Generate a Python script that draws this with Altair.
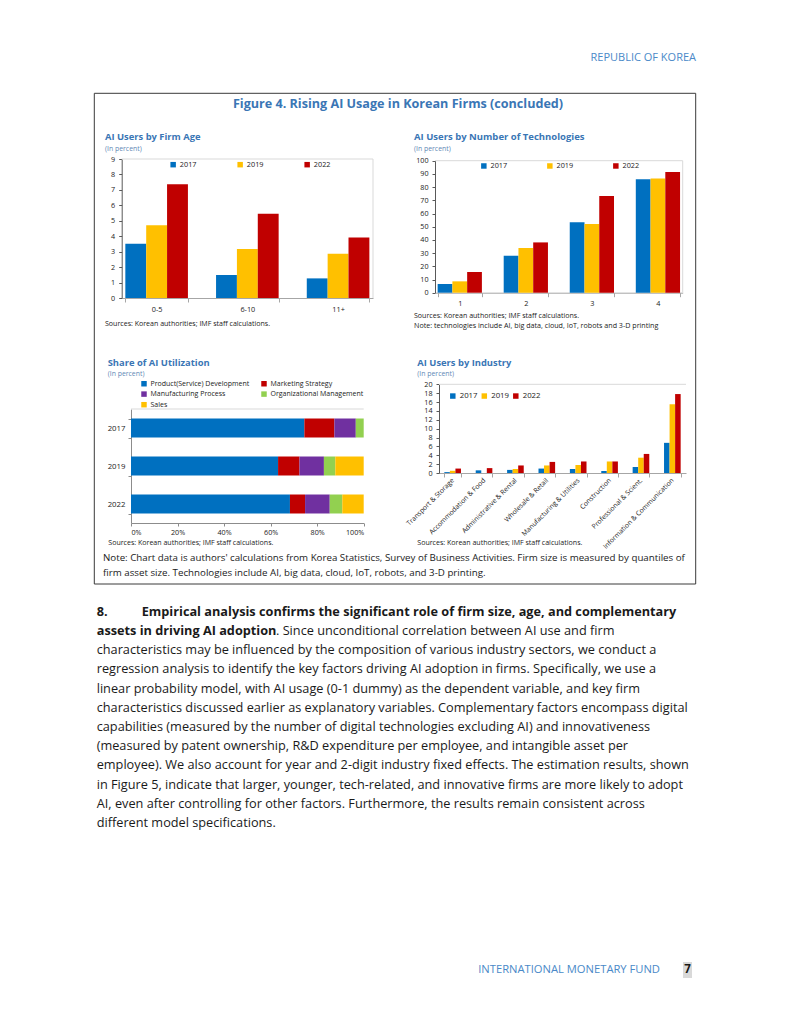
import altair as alt
import pandas as pd

FONT = "Open Sans"
OFF = 8
W, H = 775, 1008

BLUE, GOLD, RED, PURPLE, GREEN = "#0070C0", "#FFC000", "#C00000", "#7030A0", "#92D050"
TITLE_BLUE = "#3A76B5"
SUB_BLUE = "#6289B6"
HEAD_BLUE = "#4A89C8"
INK = "#1a1a1a"

# ---------------- data ----------------
years = ["2017", "2019", "2022"]

age_groups = ["0-5", "6-10", "11+"]
age_2017 = [3.52, 1.49, 1.27]
age_2019 = [4.71, 3.17, 2.87]
age_2022 = [7.37, 5.46, 3.91]

tech_counts = ["1", "2", "3", "4"]
tech_2017 = [6.6, 28.0, 53.3, 85.9]
tech_2019 = [8.6, 33.8, 52.0, 86.6]
tech_2022 = [15.7, 38.1, 73.2, 91.4]

util_years = ["2017", "2019", "2022"]
util_categories = ["Product(Service) Development", "Marketing Strategy",
                   "Manufacturing Process", "Organizational Management", "Sales"]
util_product = [74.5, 63.2, 68.3]
util_marketing = [12.9, 9.2, 6.5]
util_manufacturing = [9.2, 10.5, 10.6]
util_organizational = [3.4, 4.9, 5.4]
util_sales = [0.0, 12.2, 9.2]

industries = ["Transport & Storage", "Accommodation & Food", "Administrative & Rental",
              "Wholesale & Retail", "Manufacturing & Utilities", "Construction",
              "Professional & Scient.", "Information & Communication"]
ind_2017 = [0.2, 0.6, 0.7, 1.0, 0.9, 0.45, 1.35, 6.8]
ind_2019 = [0.5, 0.0, 0.9, 1.7, 1.8, 2.6, 3.45, 15.5]
ind_2022 = [1.0, 1.1, 1.7, 2.5, 2.6, 2.6, 4.3, 17.8]

body_lines = [
    "characteristics may be influenced by the composition of various industry sectors, we conduct a",
    "regression analysis to identify the key factors driving AI adoption in firms. Specifically, we use a",
    "linear probability model, with AI usage (0-1 dummy) as the dependent variable, and key firm",
    "characteristics discussed earlier as explanatory variables. Complementary factors encompass digital",
    "capabilities (measured by the number of digital technologies excluding AI) and innovativeness",
    "(measured by patent ownership, R&D expenditure per employee, and intangible asset per",
    "employee). We also account for year and 2-digit industry fixed effects. The estimation results, shown",
    "in Figure 5, indicate that larger, younger, tech-related, and innovative firms are more likely to adopt",
    "AI, even after controlling for other factors. Furthermore, the results remain consistent across",
    "different model specifications.",
]


def long_df(cats, series):
    rows = []
    for y, vals in series.items():
        for c, v in zip(cats, vals):
            rows.append({"cat": c, "year": y, "value": v})
    return pd.DataFrame(rows)


age_df = long_df(age_groups, {"2017": age_2017, "2019": age_2019, "2022": age_2022})
tech_df = long_df(tech_counts, {"2017": tech_2017, "2019": tech_2019, "2022": tech_2022})
ind_df = long_df(industries, {"2017": ind_2017, "2019": ind_2019, "2022": ind_2022})

util_rows = []
for i, yr in enumerate(util_years):
    for r, (cat, vals) in enumerate(zip(util_categories, [util_product, util_marketing, util_manufacturing,
                                                          util_organizational, util_sales])):
        util_rows.append({"year": yr, "category": cat, "value": vals[i], "rank": r})
util_df = pd.DataFrame(util_rows)

ONE = pd.DataFrame({"k": [0]})


def px(v):
    return v - OFF


def txt(s, x, y, size, color=INK, weight="normal", align="left"):
    return alt.Chart(ONE).mark_text(text=s, align=align, baseline="middle", fontSize=size, font=FONT,
                                    color=color, fontWeight=weight).encode(
        x=alt.value(px(x)), y=alt.value(px(y)))


def hline(x1, x2, y, color, w=1.0):
    return alt.Chart(ONE).mark_rule(color=color, strokeWidth=w).encode(
        x=alt.value(px(x1)), x2=alt.value(px(x2)), y=alt.value(px(y)))


def vline(x, y1, y2, color, w=1.0):
    return alt.Chart(ONE).mark_rule(color=color, strokeWidth=w).encode(
        x=alt.value(px(x)), y=alt.value(px(y1)), y2=alt.value(px(y2)))


def box(x1, x2, y1, y2, fill=None, stroke=None):
    kw = {}
    if fill:
        kw["fill"] = fill
    else:
        kw["fillOpacity"] = 0
    if stroke:
        kw["stroke"] = stroke
        kw["strokeWidth"] = 1
    return alt.Chart(ONE).mark_rect(**kw).encode(
        x=alt.value(px(x1)), x2=alt.value(px(x2)), y=alt.value(px(y1)), y2=alt.value(px(y2)))


def grouped(df, cats, xr, yr, ydom, yvals, pin, pout, leg_xy, colpad, leg_size=7,
            label_angle=0, xlabel_size=7.3, xlabel_pad=3, ylabel_pad=4, label_align="center",
            label_baseline="top"):
    x0, x1 = px(xr[0]), px(xr[1])
    yb, yt = px(yr[0]), px(yr[1])
    return alt.Chart(df).mark_bar().encode(
        x=alt.X("cat:N", sort=cats,
                scale=alt.Scale(domain=cats, range=[x0, x1], paddingInner=pin, paddingOuter=pout),
                axis=alt.Axis(orient="bottom", offset=yb - H, title=None, labelAngle=label_angle,
                              labelAlign=label_align, labelBaseline=label_baseline,
                              labelFontSize=xlabel_size, labelPadding=xlabel_pad, tickBand="extent",
                              tickSize=4, domainColor="#a6a6a6", tickColor="#a6a6a6", labelOverlap=False)),
        xOffset=alt.XOffset("year:N", sort=years,
                            scale=alt.Scale(domain=years, paddingInner=0, paddingOuter=0)),
        y=alt.Y("value:Q", scale=alt.Scale(domain=ydom, range=[yb, yt], nice=False, zero=True),
                axis=alt.Axis(orient="left", offset=-x0, values=yvals, title=None, labelFontSize=7.2,
                              tickSize=3, labelPadding=ylabel_pad, domainColor="#595959",
                              tickColor="#595959", labelOverlap=False)),
        color=alt.Color("year:N", sort=years, scale=alt.Scale(domain=years, range=[BLUE, GOLD, RED]),
                        legend=alt.Legend(orient="none", legendX=px(leg_xy[0]), legendY=px(leg_xy[1]),
                                          direction="horizontal", title=None, symbolType="square",
                                          symbolSize=30, symbolStrokeWidth=0, labelFontSize=leg_size,
                                          labelOffset=3, columnPadding=colpad, labelColor=INK)),
    )


p1 = grouped(age_df, age_groups, (121.7, 373), (298, 159), [0, 9], list(range(10)),
             0.31, 0.04, (169.5, 161), 40, leg_size=7.3)
p2 = grouped(tech_df, tech_counts, (435, 682.7), (292.7, 160.7), [0, 100], list(range(0, 101, 10)),
             0.33, 0.04, (480.2, 162.3), 39, leg_size=7.3)
p4 = grouped(ind_df, industries, (439, 686), (473, 384.3), [0, 20], list(range(0, 21, 2)),
             0.47, 0.17, (448.9, 392), 2.5, leg_size=7.8, label_angle=-45, xlabel_size=6.8,
             xlabel_pad=2, label_align="right", label_baseline="middle")

p3 = alt.Chart(util_df).mark_bar().encode(
    x=alt.X("value:Q", stack="zero",
            scale=alt.Scale(domain=[0, 100], range=[px(131), px(363.7)], nice=False),
            axis=alt.Axis(orient="bottom", offset=px(523) - H, values=[0, 20, 40, 60, 80, 100],
                          labelExpr="datum.value + '%'", title=None, tickSize=3, labelFontSize=7.2,
                          labelPadding=2, domainColor="#8c8c8c", tickColor="#8c8c8c", labelOverlap=False)),
    y=alt.Y("year:N", sort=util_years,
            scale=alt.Scale(domain=util_years, range=[px(409), px(523)], paddingInner=0.5, paddingOuter=0.25),
            axis=alt.Axis(orient="left", offset=-px(131), title=None, tickBand="extent", tickSize=3,
                          labelFontSize=7.8, labelPadding=3, domainColor="#8c8c8c", tickColor="#8c8c8c",
                          labelOverlap=False)),
    color=alt.Color("category:N", sort=util_categories,
                    scale=alt.Scale(domain=util_categories, range=[BLUE, RED, PURPLE, GREEN, GOLD]),
                    legend=alt.Legend(orient="none", legendX=px(140.5), legendY=px(380), columns=2,
                                      direction="horizontal", title=None, symbolType="square", symbolSize=30,
                                      symbolStrokeWidth=0, labelFontSize=7, labelOffset=3, columnPadding=11,
                                      rowPadding=2.6, labelColor=INK)),
    order=alt.Order("rank:Q"),
)

layers = []
# decorations
layers.append(box(94.3, 695.7, 93.3, 584, stroke="#3a3a3a"))
layers.append(hline(121.7, 373, 159, "#d9d9d9"))
layers.append(vline(373, 159, 298, "#d9d9d9"))
layers.append(hline(435, 682.7, 160.7, "#d9d9d9"))
layers.append(vline(682.7, 160.7, 292.7, "#d9d9d9"))
layers.append(hline(131, 363.7, 409, "#d9d9d9"))
layers.append(hline(439, 686, 384.3, "#d9d9d9"))
layers.append(box(683, 692, 962, 978, fill="#d9d9d9"))

layers += [p1, p2, p3, p4]

# texts
SRC = 7.05
layers.append(txt("REPUBLIC OF KOREA", 696, 58, 11, HEAD_BLUE, align="right"))
layers.append(txt("Figure 4. Rising AI Usage in Korean Firms (concluded)", 398, 104, 12.6, TITLE_BLUE,
                  "bold", "center"))

layers.append(txt("AI Users by Firm Age", 105, 137, 9.4, TITLE_BLUE, "bold"))
layers.append(txt("(In percent)", 105, 149, 6.9, SUB_BLUE))
layers.append(txt("Sources: Korean authorities; IMF staff calculations.", 105, 324, SRC))

layers.append(txt("AI Users by Number of Technologies", 414, 137, 9.5, TITLE_BLUE, "bold"))
layers.append(txt("(In percent)", 414, 149, 6.9, SUB_BLUE))
layers.append(txt("Sources: Korean authorities; IMF staff calculations.", 414, 315.7, SRC))
layers.append(txt("Note: technologies include AI, big data, cloud, IoT, robots and 3-D printing", 414, 326, 7.15))

layers.append(txt("Share of AI Utilization", 107.7, 363, 9.4, TITLE_BLUE, "bold"))
layers.append(txt("(In percent)", 107.7, 374, 6.9, SUB_BLUE))
layers.append(txt("Sources: Korean authorities; IMF staff calculations.", 108.3, 543, SRC))

layers.append(txt("AI Users by Industry", 417.3, 363, 9.4, TITLE_BLUE, "bold"))
layers.append(txt("(In percent)", 417.3, 374, 6.9, SUB_BLUE))
layers.append(txt("Sources: Korean authorities; IMF staff calculations.", 417.3, 543, SRC))

layers.append(txt("Note: Chart data is authors' calculations from Korea Statistics, Survey of Business Activities. "
                  "Firm size is measured by quantiles of", 103, 558, 9.74))
layers.append(txt("firm asset size. Technologies include AI, big data, cloud, IoT, robots, and 3-D printing.",
                  103, 573, 9.74))

BODY = 12.72
y0 = 611.7
step = 19.2
layers.append(txt("8.", 96.7, y0, BODY, INK, "bold"))
layers.append(txt("Empirical analysis confirms the significant role of firm size, age, and complementary",
                  141.7, y0, BODY, INK, "bold"))
layers.append(txt("assets in driving AI adoption", 96.7, y0 + step, BODY, INK, "bold"))
layers.append(txt(". Since unconditional correlation between AI use and firm", 276.0, y0 + step, BODY))
for i, line in enumerate(body_lines):
    layers.append(txt(line, 96.7, y0 + (i + 2) * step, BODY))

layers.append(txt("INTERNATIONAL MONETARY FUND", 660, 970, 11.2, HEAD_BLUE, align="right"))
layers.append(txt("7", 687.5, 970, 11.5, INK, "bold", "center"))

chart = alt.layer(*layers).resolve_scale(
    x="independent", y="independent", color="independent", xOffset="independent"
).properties(
    width=W, height=H, autosize=alt.AutoSizeParams(type="none"), padding=0
).configure_view(stroke=None).configure_axis(
    labelFont=FONT, labelColor="#222", grid=False
).configure_legend(labelFont=FONT)

chart.save("out.html", embed_options={"renderer": "svg", "actions": False})
